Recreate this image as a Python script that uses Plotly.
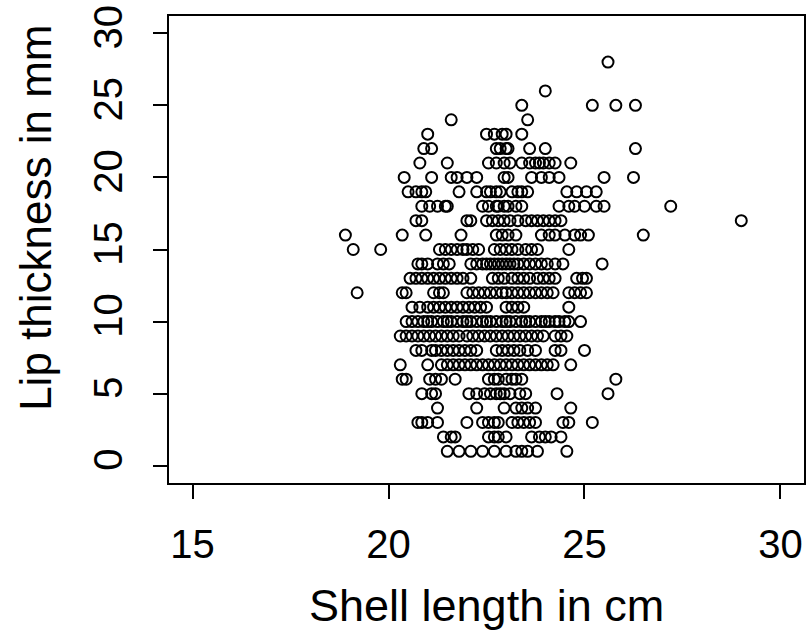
import plotly.graph_objects as go

# Shell length (cm) grouped by lip thickness (mm)
rows = {
    28: [25.6],
    26: [24.0],
    25: [23.4, 25.2, 25.8, 26.3],
    24: [21.6, 23.55],
    23: [21.0, 22.5, 22.7, 22.9, 23.0, 23.4],
    22: [20.9, 21.1, 22.75, 22.85, 23.0, 23.05, 23.6, 24.0, 26.3],
    21: [20.8, 21.5, 22.55, 22.75, 22.95, 23.1, 23.4, 23.6, 23.75, 23.85, 23.95, 24.1, 24.25, 24.65],
    20: [20.4, 21.1, 21.6, 21.75, 22.0, 22.25, 22.95, 23.05, 23.65, 23.9, 24.1, 24.35, 25.5, 26.25],
    19: [20.5, 20.7, 20.85, 20.95, 21.8, 22.25, 22.5, 22.6, 22.75, 22.85, 23.15, 23.3, 23.4, 23.55,
         24.55, 24.8, 25.05, 25.3],
    18: [20.85, 21.05, 21.25, 21.45, 21.5, 22.4, 22.55, 22.75, 22.8, 22.95, 23.05, 23.25, 23.4,
         24.35, 24.6, 24.75, 25.0, 25.3, 25.5, 27.2],
    17: [20.7, 20.85, 22.0, 22.1, 22.5, 22.65, 22.8, 22.95, 23.1, 23.3, 23.5, 23.65, 23.8, 23.95,
         24.1, 24.25, 24.4, 29.0],
    16: [18.9, 20.35, 20.95, 21.85, 22.75, 22.9, 23.05, 23.25, 23.9, 24.1, 24.25, 24.5, 24.75,
         24.9, 25.1, 26.5],
    15: [19.1, 19.8, 21.3, 21.45, 21.6, 21.75, 21.9, 22.0, 22.15, 22.3, 22.7, 22.85, 23.0, 23.15,
         23.3, 23.5, 23.65, 23.8, 24.6],
    14: [20.75, 20.85, 21.0, 21.25, 21.4, 21.55, 22.1, 22.25, 22.4, 22.5, 22.6, 22.7, 22.8, 22.9,
         23.0, 23.1, 23.2, 23.3, 23.45, 23.6, 23.75, 23.9, 24.05, 24.25, 24.45, 25.45],
    13: [20.55, 20.7, 20.85, 21.0, 21.15, 21.3, 21.45, 21.6, 21.75, 21.9, 22.1, 22.65, 22.8, 22.95,
         23.15, 23.3, 23.45, 23.6, 23.8, 23.95, 24.1, 24.25, 24.8, 24.95, 25.05],
    12: [19.2, 20.35, 20.45, 21.15, 21.3, 21.4, 22.0, 22.15, 22.3, 22.45, 22.6, 22.75, 22.9, 23.0,
         23.15, 23.3, 23.45, 23.6, 23.75, 23.9, 24.05, 24.2, 24.6, 24.75, 24.9, 25.05],
    11: [20.6, 20.8, 21.0, 21.15, 21.3, 21.45, 21.6, 21.75, 21.9, 22.05, 22.2, 22.35, 22.5, 23.0,
         23.15, 23.3, 23.45, 24.6],
    10: [20.45, 20.6, 20.75, 20.9, 21.0, 21.1, 21.25, 21.4, 21.5, 21.6, 21.75, 21.9, 22.0, 22.1,
         22.25, 22.4, 22.5, 22.6, 22.75, 22.9, 23.0, 23.1, 23.25, 23.4, 23.5, 23.6, 23.75, 23.9,
         24.0, 24.1, 24.25, 24.35, 24.5, 24.6, 24.9],
    9: [20.3, 20.45, 20.6, 20.75, 20.9, 21.05, 21.2, 21.35, 21.5, 21.65, 21.8, 22.0, 22.15, 22.3,
        22.45, 22.6, 22.75, 22.9, 23.05, 23.2, 23.35, 23.5, 23.65, 23.8, 23.95, 24.25, 24.4, 24.55],
    8: [20.7, 20.85, 21.1, 21.2, 21.35, 21.5, 21.65, 21.8, 21.95, 22.1, 22.25, 22.75, 22.9, 23.05,
        23.2, 23.35, 23.55, 23.75, 24.25, 24.4, 25.0],
    7: [20.3, 21.0, 21.35, 21.5, 21.65, 21.8, 21.95, 22.1, 22.25, 22.4, 22.55, 22.7, 22.85, 23.0,
        23.15, 23.3, 23.45, 23.6, 23.75, 23.9, 24.05, 24.2, 24.65],
    6: [20.35, 20.45, 21.05, 21.2, 21.35, 21.7, 22.55, 22.7, 22.8, 23.0, 23.15, 23.25, 23.4, 25.8],
    5: [20.85, 21.1, 21.2, 22.05, 22.25, 22.45, 22.6, 22.75, 22.85, 22.95, 23.1, 23.35, 23.5,
        24.3, 25.6],
    4: [21.25, 22.25, 22.95, 23.25, 23.4, 23.55, 23.75, 24.65],
    3: [20.75, 20.85, 21.0, 21.25, 22.0, 22.4, 22.55, 22.7, 22.8, 23.15, 23.3, 23.45, 23.6, 23.75,
        24.45, 24.6, 25.2],
    2: [21.4, 21.6, 21.7, 22.55, 22.7, 22.8, 23.0, 23.65, 23.85, 24.0, 24.15, 24.4],
    1: [21.5, 21.8, 22.1, 22.4, 22.7, 23.0, 23.25, 23.4, 23.55, 23.8, 24.55],
}

shell_length = [x for y, xs in rows.items() for x in xs]
lip_thickness = [y for y, xs in rows.items() for _ in xs]

x_ticks = [15, 20, 25, 30]
y_ticks = [0, 5, 10, 15, 20, 25, 30]
x_title = "Shell length in cm"
y_title = "Lip thickness in mm"

fig = go.Figure(go.Scatter(
    x=shell_length, y=lip_thickness, mode="markers",
    marker=dict(symbol="circle-open", size=11, color="black", line=dict(width=2, color="black")),
))

font_family = "Liberation Sans, Arial, sans-serif"
axis_common = dict(
    showgrid=False, zeroline=False, showline=True, mirror=True,
    linecolor="black", linewidth=1.5, ticks="outside", ticklen=14, tickwidth=1.5,
    tickcolor="black", tickfont=dict(size=40, color="black", family=font_family),
)

fig.update_layout(
    width=808, height=638,
    margin=dict(l=169, r=2, t=16, b=155),
    paper_bgcolor="white", plot_bgcolor="white",
    showlegend=False,
    font=dict(family=font_family, color="black"),
    xaxis=dict(range=[14.4, 30.6], tickvals=x_ticks, ticklabelstandoff=11, **axis_common),
    yaxis=dict(range=[-1.2, 31.2], tickvals=y_ticks, tickangle=-90, ticklabelstandoff=15,
               **axis_common),
    annotations=[
        dict(text=x_title, xref="paper", yref="paper", x=0.5, y=-0.262,
             xanchor="center", yanchor="middle", showarrow=False,
             font=dict(size=45, color="black", family=font_family)),
        dict(text=y_title, xref="paper", yref="paper", x=-0.21, y=0.567, textangle=-90,
             xanchor="center", yanchor="middle", showarrow=False,
             font=dict(size=44, color="black", family=font_family)),
    ],
)

fig.write_html("out.html")
